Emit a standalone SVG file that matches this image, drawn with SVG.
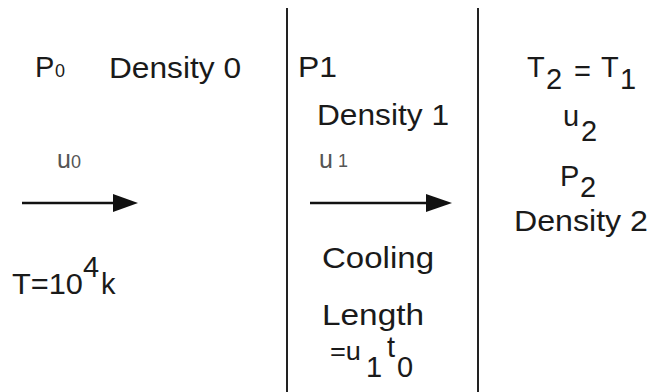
<svg xmlns="http://www.w3.org/2000/svg" width="653" height="392" viewBox="0 0 653 392">
<style>
text{font-family:"Liberation Sans",Arial,sans-serif;font-size:29px;fill:#1a1a1a}
.sm{font-size:18px}
.u{font-size:25px}
.g{fill:#555}
.wall{stroke:#222;stroke-width:2;fill:none}
.shaft{stroke:#111;stroke-width:2.5;fill:none}
.head{fill:#111}
</style>
<rect width="653" height="392" fill="#fff"/>
<g id="walls">
<line class="wall" x1="287" y1="8" x2="287" y2="392"/>
<line class="wall" x1="478" y1="8" x2="478" y2="392"/>
</g>
<g id="connectors">
<line class="shaft" x1="22" y1="203" x2="116" y2="203"/>
<polygon class="head" points="113,194 138,203 113,212"/>
<line class="shaft" x1="310" y1="203" x2="429" y2="203"/>
<polygon class="head" points="426,194 452,203 426,212"/>
</g>
<g id="region0">
<text x="35" y="77">P</text><text class="sm" x="55" y="77">0</text>
<text x="109" y="78" textLength="132" lengthAdjust="spacingAndGlyphs">Density 0</text>
<text class="u g" x="57" y="168">u</text><text class="sm g" x="71" y="168">0</text>
<text x="12" y="294" textLength="71" lengthAdjust="spacingAndGlyphs">T=10</text>
<text x="83" y="277">4</text>
<text x="101" y="294">k</text>
</g>
<g id="region1">
<text x="298" y="77" textLength="39" lengthAdjust="spacingAndGlyphs">P1</text>
<text x="317" y="125" textLength="132" lengthAdjust="spacingAndGlyphs">Density 1</text>
<text class="u g" x="319" y="168">u</text><text class="sm g" x="338" y="167">1</text>
<text x="322" y="268" textLength="112" lengthAdjust="spacingAndGlyphs">Cooling</text>
<text x="322" y="325" textLength="102" lengthAdjust="spacingAndGlyphs">Length</text>
<text class="u" x="330" y="360" textLength="31" lengthAdjust="spacingAndGlyphs">=u</text>
<text x="366" y="377">1</text>
<text x="387" y="357">t</text>
<text x="397" y="377">0</text>
</g>
<g id="region2">
<text x="527" y="77">T</text><text x="546" y="89">2</text>
<text x="574" y="81">=</text>
<text x="601" y="77">T</text><text x="620" y="89">1</text>
<text x="563" y="126">u</text><text x="581" y="141">2</text>
<text x="560" y="186">P</text><text x="580" y="197">2</text>
<text x="514" y="231" textLength="134" lengthAdjust="spacingAndGlyphs">Density 2</text>
</g>
</svg>
